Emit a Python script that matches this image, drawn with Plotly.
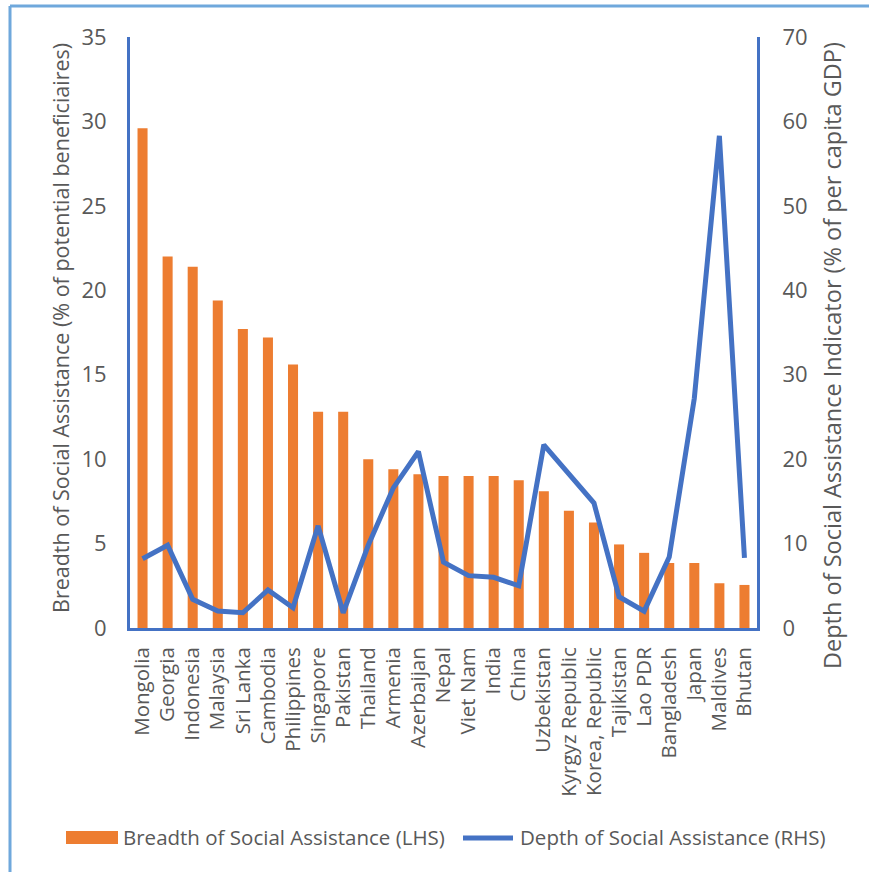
import plotly.graph_objects as go

countries = ["Mongolia", "Georgia", "Indonesia", "Malaysia", "Sri Lanka", "Cambodia",
             "Philippines", "Singapore", "Pakistan", "Thailand", "Armenia", "Azerbaijan",
             "Nepal", "Viet Nam", "India", "China", "Uzbekistan", "Kyrgyz Republic",
             "Korea, Republic", "Tajikistan", "Lao PDR", "Bangladesh", "Japan",
             "Maldives", "Bhutan"]

# Breadth: % of potential beneficiaries (left axis)
breadth = [29.6, 22.0, 21.4, 19.4, 17.7, 17.2, 15.6, 12.8, 12.8, 10.0, 9.4, 9.1,
           9.0, 9.0, 9.0, 8.75, 8.1, 6.95, 6.25, 4.95, 4.45, 3.85, 3.85, 2.65, 2.55]

# Depth: % of per capita GDP (right axis)
depth = [8.2, 9.8, 3.4, 2.0, 1.8, 4.5, 2.4, 12.1, 1.8, 9.8, 16.6, 20.9,
         7.8, 6.2, 6.0, 5.0, 21.7, 18.2, 14.8, 3.7, 2.0, 8.4, 27.2, 58.3, 8.3]

left_ticks = [0, 5, 10, 15, 20, 25, 30, 35]
right_ticks = [0, 10, 20, 30, 40, 50, 60, 70]

bar_name = "Breadth of Social Assistance (LHS)"
line_name = "Depth of Social Assistance (RHS)"
left_title = "Breadth of Social Assistance (% of potential beneficiaires)"
right_title = "Depth of Social Assistance Indicator (% of per capita GDP)"

ORANGE = "#ED7D31"
BLUE = "#4472C4"
TEXT = "#595959"
FRAME = "#6FA8DC"
FONT = "Open Sans"

W, H = 869, 872
L, R, T, B = 130, 112, 37, 244
pw, ph = W - L - R, H - T - B


def px(x):
    return (x - L) / pw


def py(y):
    return (H - B - y) / ph


fig = go.Figure()
fig.add_trace(go.Bar(
    x=countries, y=breadth, name=bar_name,
    marker=dict(color=ORANGE, line=dict(width=0)), width=0.4, yaxis="y"))
fig.add_trace(go.Scatter(
    x=countries, y=depth, name=line_name,
    mode="lines", line=dict(color=BLUE, width=5), yaxis="y2"))

# legend keys drawn below the plot
legend_shapes = [
    dict(type="rect", xref="paper", yref="paper", x0=px(66), x1=px(118),
         y0=py(844), y1=py(831), fillcolor=ORANGE, line=dict(width=0)),
    dict(type="line", xref="paper", yref="paper", x0=px(463), x1=px(513),
         y0=py(838), y1=py(838), line=dict(color=BLUE, width=5)),
]
frame_shapes = [
    dict(type="line", xref="paper", yref="paper", x0=px(10), x1=px(900),
         y0=py(6), y1=py(6), line=dict(color=FRAME, width=3)),
    dict(type="line", xref="paper", yref="paper", x0=px(10), x1=px(10),
         y0=py(6), y1=py(900), line=dict(color=FRAME, width=3)),
]

annotations = [
    dict(text=bar_name, xref="paper", yref="paper", x=px(121), y=py(837),
         xanchor="left", yanchor="middle", showarrow=False,
         font=dict(size=20.5, color=TEXT, family=FONT)),
    dict(text=line_name, xref="paper", yref="paper", x=px(518), y=py(837),
         xanchor="left", yanchor="middle", showarrow=False,
         font=dict(size=20.5, color=TEXT, family=FONT)),
    dict(text=left_title, xref="paper", yref="paper", x=px(60), y=py(328),
         xanchor="center", yanchor="middle", textangle=-90, showarrow=False,
         font=dict(size=21.5, color=TEXT, family=FONT)),
    dict(text=right_title, xref="paper", yref="paper", x=px(832), y=py(356),
         xanchor="center", yanchor="middle", textangle=-90, showarrow=False,
         font=dict(size=23.5, color=TEXT, family=FONT)),
]

fig.update_layout(
    width=W, height=H,
    margin=dict(l=L, r=R, t=T, b=B, pad=0),
    paper_bgcolor="white", plot_bgcolor="white",
    font=dict(family=FONT, color=TEXT, size=19),
    showlegend=False,
    xaxis=dict(type="category", range=[-0.5, len(countries) - 0.5],
               showline=True, linecolor=BLUE, linewidth=3, ticks="",
               tickangle=-90, tickfont=dict(size=20.5, color=TEXT),
               ticklabelstandoff=8, showgrid=False, zeroline=False),
    yaxis=dict(range=[0, 35], tickvals=left_ticks, showline=True, linecolor=BLUE,
               linewidth=3, ticks="", showgrid=False, zeroline=False,
               tickfont=dict(size=22, color=TEXT), ticklabelstandoff=16),
    yaxis2=dict(range=[0, 70], tickvals=right_ticks, overlaying="y", side="right",
                showline=True, linecolor=BLUE, linewidth=3, ticks="",
                showgrid=False, zeroline=False,
                tickfont=dict(size=22, color=TEXT), ticklabelstandoff=18),
    shapes=frame_shapes + legend_shapes,
    annotations=annotations,
)

fig.write_html("out.html")
